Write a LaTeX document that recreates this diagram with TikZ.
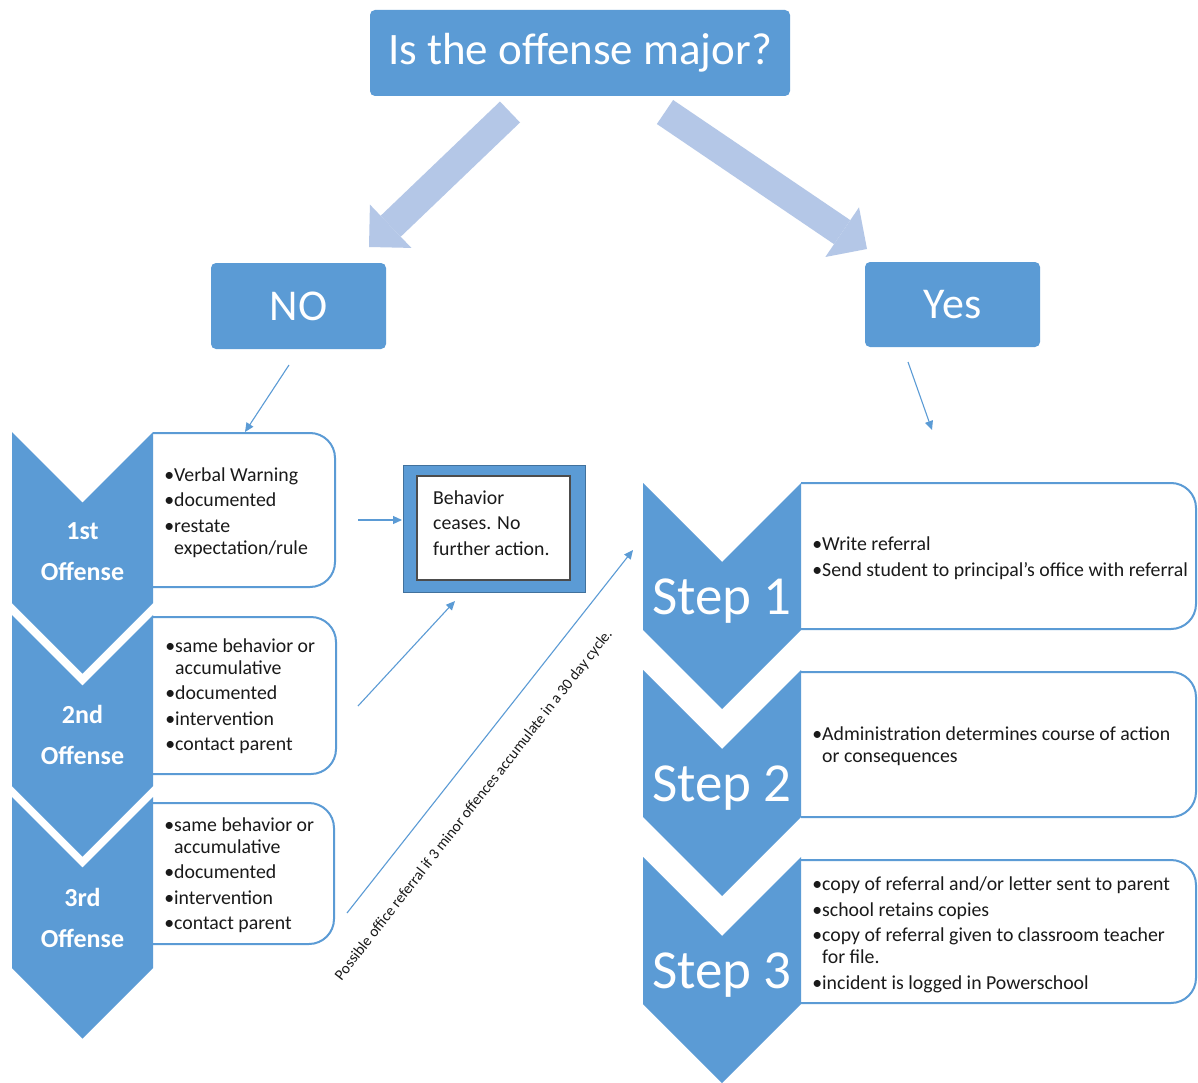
\documentclass[tikz,border=0pt]{standalone}
\usepackage{fontspec}
\setmainfont{Carlito}
\usetikzlibrary{arrows.meta}
\definecolor{mblue}{HTML}{5B9BD5}
\definecolor{lblue}{HTML}{B4C7E7}
\definecolor{dblue}{HTML}{41719C}
\definecolor{tcol}{HTML}{1A1A1A}
\newcommand{\mybul}{\llap{\textbullet}}
\begin{document}
\begin{tikzpicture}[x=1pt,y=-1pt,
  bluebox/.style={fill=mblue, rounded corners=5pt, text=white, inner sep=0pt},
  tbox/.style={draw=mblue, line width=2pt, fill=white, rounded corners=25pt},
  btxt/.style={font=\fontsize{19.8}{22}\selectfont, text=tcol, align=left, inner sep=0pt, anchor=north west},
  ctxt/.style={font=\bfseries\fontsize{26}{41}\selectfont, text=white, align=center, inner sep=0pt},
  stxt/.style={font=\fontsize{55}{60}\selectfont, text=white, inner sep=0pt, anchor=base},
  bigarrow/.style={draw=lblue, line width=29pt, -{Triangle[width=60pt,length=30pt,line width=0pt]}},
  thinarrow/.style={draw=mblue, line width=1.1pt, -{Triangle[length=9pt,width=8pt]}},
  chevL/.pic={\fill[mblue] (0,0) -- (70.5,70.5) -- (141,0) -- (141,171) -- (70.5,241.5) -- (0,171) -- cycle;},
  chevR/.pic={\fill[mblue] (0,0) -- (79,79) -- (158,0) -- (158,147) -- (79,226) -- (0,147) -- cycle;}
]
\useasboundingbox (0,0) rectangle (1198,1083);
\fill[white] (0,0) rectangle (1198,1083);

% top decision and answers
\node[bluebox, minimum width=420pt, minimum height=86pt, font=\fontsize{45}{50}\selectfont] (q) at (580,53) {Is the offense major?};
\node[bluebox, minimum width=175pt, minimum height=86pt, font=\fontsize{44}{50}\selectfont] (no) at (298.5,306) {NO};
\node[bluebox, minimum width=175pt, minimum height=85pt, font=\fontsize{44}{50}\selectfont] (yes) at (952.5,304.5) {Yes};

\coordinate (qL) at (510,112);
\coordinate (noT) at (369,247);
\coordinate (qR) at (665,112);
\coordinate (yesT) at (867,249);
\draw[bigarrow] (qL) -- (noT);
\draw[bigarrow] (qR) -- (yesT);

% left text boxes
\draw[tbox] (153,433) -- (335,433) -- (335,587) -- (153,587);
\draw[tbox] (153,617) -- (336,617) -- (336,774) -- (153,774);
\draw[tbox] (153,803) -- (334,803) -- (334,944) -- (153,944);

% left chevrons
\pic at (12,432) {chevL};
\pic at (12,615) {chevL};
\pic at (12,797) {chevL};
\node[ctxt] (c1) at (82.5,552) {1st\\Offense};
\node[ctxt] (c2) at (82.5,735) {2nd\\Offense};
\node[ctxt] (c3) at (82.5,918) {3rd\\Offense};

\node[btxt] (l1) at (174,467.5) {\mybul Verbal Warning\\[3.5pt]\mybul documented\\[3.5pt]\mybul restate\\expectation/rule};
\node[btxt] (l2) at (175,638.5) {\mybul same behavior or\\accumulative\\[3.5pt]\mybul documented\\[3.5pt]\mybul intervention\\[3.5pt]\mybul contact parent};
\node[btxt] (l3) at (174,817.5) {\mybul same behavior or\\accumulative\\[3.5pt]\mybul documented\\[3.5pt]\mybul intervention\\[3.5pt]\mybul contact parent};

% behavior box
\node[fill=mblue, draw=dblue, line width=0.8pt, minimum width=182pt, minimum height=127pt, inner sep=0pt] (bo) at (494,528.5) {};
\node[fill=white, draw=black!70, line width=1.2pt, minimum width=153pt, minimum height=104pt, inner sep=0pt] (bi) at (493.5,528) {};
\node[btxt, font=\fontsize{19.8}{25.5}\selectfont] (bt) at (433,490.5) {Behavior\\ceases. No\\further action.};

% right text boxes
\draw[tbox] (801,483) -- (1196,483) -- (1196,629) -- (801,629);
\draw[tbox] (801,672) -- (1196,672) -- (1196,817) -- (801,817);
\draw[tbox] (801,860) -- (1196,860) -- (1196,1003) -- (801,1003);

% step chevrons
\pic at (643,483) {chevR};
\pic at (643,670) {chevR};
\pic at (643,857) {chevR};
\node[stxt] (s1) at (722,614) {Step 1};
\node[stxt] (s2) at (722,801) {Step 2};
\node[stxt] (s3) at (722,988) {Step 3};

\node[btxt] (r1) at (822,537) {\mybul Write referral\\[3.5pt]\mybul Send student to principal's office with referral};
\node[btxt] (r2) at (822,727) {\mybul Administration determines course of action\\or consequences};
\node[btxt] (r3) at (822,877) {\mybul copy of referral and/or letter sent to parent\\[3.5pt]\mybul school retains copies\\[3.5pt]\mybul copy of referral given to classroom teacher\\for file.\\[3.5pt]\mybul incident is logged in Powerschool};

% thin connectors
\coordinate (noB) at (289,365);
\coordinate (off1) at (245,432);
\coordinate (yesB) at (908,362);
\coordinate (step1) at (932,430);
\coordinate (l1E) at (358,520);
\coordinate (boW) at (402,520);
\coordinate (l2E) at (358,706);
\coordinate (boS) at (455,601);
\coordinate (l3E) at (347,913);
\coordinate (stepW) at (633,550);
\draw[thinarrow] (noB) -- (off1);
\draw[thinarrow] (yesB) -- (step1);
\draw[thinarrow] (l1E) -- (boW);
\draw[thinarrow] (l2E) -- (boS);
\draw[thinarrow] (l3E) -- (stepW);

\node[font=\fontsize{15.3}{17}\selectfont, text=tcol, rotate=52, inner sep=0pt] (note) at (474,805) {Possible office referral if 3 minor offences accumulate in a 30 day cycle.};
\end{tikzpicture}
\end{document}
